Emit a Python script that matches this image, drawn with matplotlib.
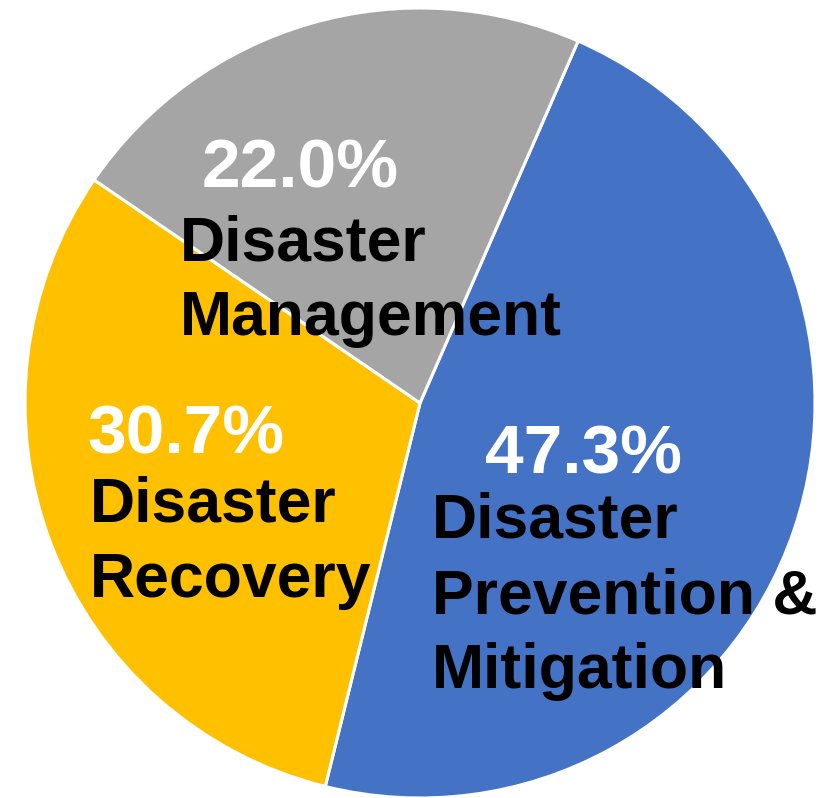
import matplotlib
matplotlib.use("Agg")
import matplotlib.pyplot as plt

categories = ["Disaster\nPrevention &\nMitigation", "Disaster\nRecovery", "Disaster\nManagement"]
values = [47.3, 30.7, 22.0]
colors = ["#4472C4", "#FFC000", "#A5A5A5"]

W, H = 828, 798
fig = plt.figure(figsize=(W / 100, H / 100), dpi=100)
ax = fig.add_axes([0, 0, 1, 1])
ax.set_xlim(0, W)
ax.set_ylim(0, H)
ax.set_aspect("equal")
ax.axis("off")

cx, cy, r = 420, H - 403, 395
ax.pie(values, colors=colors, startangle=66.4, counterclock=False,
       center=(cx, cy), radius=r,
       wedgeprops=dict(edgecolor="white", linewidth=2.2), frame=True)
ax.set_xlim(0, W)
ax.set_ylim(0, H)
ax.axis("off")

font = "Liberation Sans"
# label placement (pixel coords, top-down): pct center x, pct baseline, label left x, first label baseline
pct_pos = [(584, 473), (186, 453), (300, 187)]
lab_pos = [(432, 538), (90, 522), (180, 260)]
line_gap = 75

for v, lab, (px, pb), (lx, lb) in zip(values, categories, pct_pos, lab_pos):
    ax.text(px, H - pb, f"{v:.1f}%", ha="center", va="baseline", color="white",
            fontsize=50, fontweight="bold", family=font)
    for i, line in enumerate(lab.split("\n")):
        ax.text(lx, H - (lb + i * line_gap), line, ha="left", va="baseline", color="black",
                fontsize=45, fontweight="bold", family=font)

fig.savefig("out.png", dpi=100)
